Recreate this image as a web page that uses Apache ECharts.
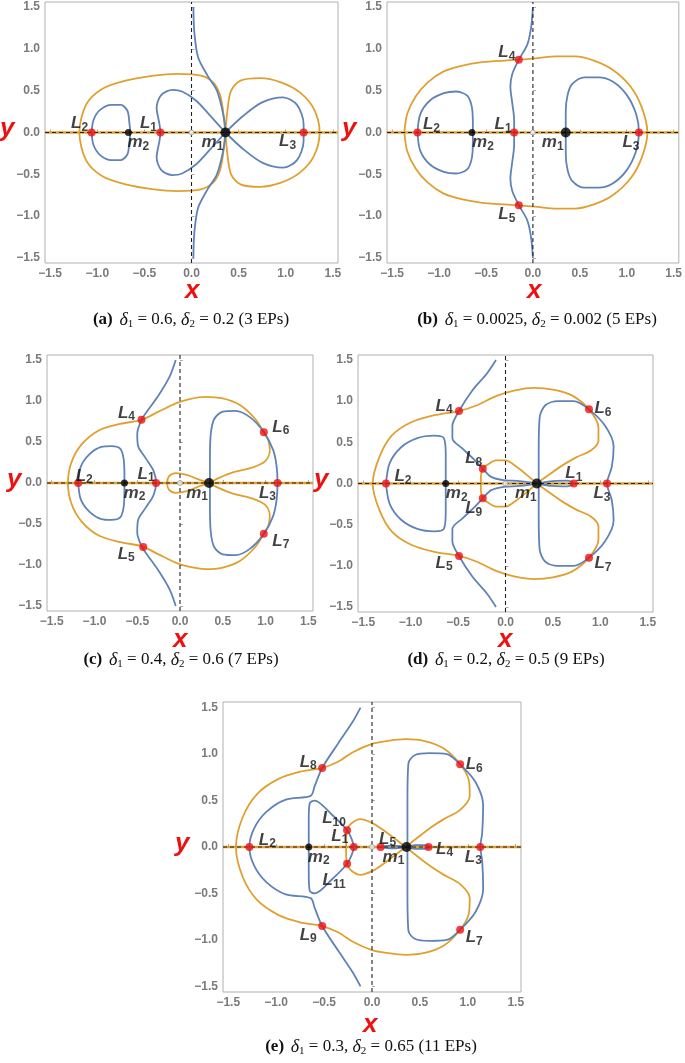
<!DOCTYPE html>
<html><head><meta charset="utf-8">
<script src="https://cdn.jsdelivr.net/npm/echarts@6/dist/echarts.min.js"></script>
<style>html,body{margin:0;padding:0;background:#fff}#c{width:685px;height:1063px}</style>
</head><body><div id="c"></div>
<script>
// Tick labels shared by all panels
const tickValues = [-1.5, -1.0, -0.5, 0.0, 0.5, 1.0, 1.5];

// ---- Panel (a): upper halves (mirrored about y=0) ----
const aOrangeLeft = [[0.36,0],[0.345,0.15],[0.33,0.3],[0.3,0.46],[0.23,0.6],[0.1,0.68],[-0.15,0.70],[-0.4,0.68],[-0.7,0.62],[-0.95,0.52],[-1.12,0.33],[-1.19,0]];
const aOrangeRight = [[0.36,0],[0.38,0.25],[0.42,0.5],[0.52,0.62],[0.73,0.65],[0.95,0.60],[1.15,0.48],[1.30,0.28],[1.36,0]];
const aBlueVert = [[0.02,1.5],[0.03,1.2],[0.07,0.9],[0.17,0.68],[0.27,0.5],[0.34,0.2],[0.36,0]];
const aBlueMid = [[0.36,0],[0.2,0.2],[0.05,0.38],[-0.1,0.49],[-0.2,0.51],[-0.32,0.45],[-0.37,0.3],[-0.34,0.1],[-0.33,0]];
const aBlueRight = [[0.36,0],[0.55,0.2],[0.75,0.36],[0.97,0.42],[1.12,0.33],[1.19,0.1],[1.19,0]];
const aBlueLeft = [[-1.06,0],[-1.04,0.15],[-0.97,0.27],[-0.85,0.33],[-0.75,0.33],[-0.68,0.26],[-0.66,0.12],[-0.65,0]];
const aPoints = [['L','2',-1.06,0],['L','1',-0.33,0],['L','3',1.19,0]];
const aMasses = [['m','2',-0.67,0],['m','1',0.36,0]];

// ---- Panel (b) ----
const bOrange = [[-1.37,0],[-1.34,0.22],[-1.25,0.43],[-1.12,0.6],[-0.95,0.73],[-0.75,0.8],[-0.54,0.84],[-0.3,0.86],[-0.15,0.87],[0.05,0.89],[0.25,0.91],[0.45,0.91],[0.65,0.86],[0.85,0.75],[1.04,0.55],[1.16,0.30],[1.22,0]];
const bBlueVert = [[0,1.5],[-0.02,1.25],[-0.06,1.05],[-0.15,0.87],[-0.22,0.7],[-0.24,0.55],[-0.22,0.35],[-0.2,0.15],[-0.2,0]];
const bBlueLeft = [[-1.23,0],[-1.2,0.22],[-1.1,0.38],[-0.95,0.47],[-0.82,0.49],[-0.7,0.44],[-0.65,0.3],[-0.64,0.1],[-0.64,0]];
const bBlueRight = [[0.35,0],[0.35,0.25],[0.37,0.45],[0.42,0.58],[0.55,0.66],[0.7,0.66],[0.85,0.61],[1.0,0.45],[1.1,0.22],[1.13,0]];
const bPoints = [['L','2',-1.23,0],['L','1',-0.2,0],['L','3',1.13,0],['L','4',-0.15,0.87],['L','5',-0.15,-0.87]];
const bMasses = [['m','2',-0.65,0],['m','1',0.35,0]];

// ---- Panel (c) ----
const cOrangeOuter = [[0.34,0],[0.45,0.06],[0.62,0.13],[0.85,0.19],[1.0,0.27],[1.05,0.4],[1.03,0.53],[0.98,0.62],[0.88,0.78],[0.7,0.95],[0.5,1.03],[0.3,1.05],[0.1,1.02],[-0.05,0.97],[-0.25,0.87],[-0.45,0.77],[-0.7,0.72],[-0.95,0.64],[-1.15,0.47],[-1.27,0.25],[-1.31,0]];
const cOrangeInner = [[0.34,0],[0.2,0.05],[0.08,0.1],[-0.05,0.12],[-0.13,0.08],[-0.15,0]];
const cBlueVert = [[-0.05,1.5],[-0.12,1.3],[-0.25,1.07],[-0.38,0.88],[-0.45,0.77],[-0.5,0.6],[-0.49,0.45],[-0.4,0.3],[-0.31,0.15],[-0.28,0]];
const cBlueLeft = [[-1.19,0],[-1.16,0.2],[-1.06,0.35],[-0.92,0.44],[-0.8,0.45],[-0.7,0.42],[-0.66,0.3],[-0.65,0.1],[-0.65,0]];
const cBlueRight = [[0.35,0],[0.35,0.3],[0.36,0.6],[0.4,0.78],[0.5,0.87],[0.65,0.88],[0.82,0.8],[0.98,0.62],[1.09,0.4],[1.13,0.2],[1.14,0]];
const cPoints = [['L','2',-1.19,0],['L','1',-0.28,0],['L','3',1.14,0],['L','4',-0.45,0.77],['L','5',-0.43,-0.78],['L','6',0.98,0.62],['L','7',0.98,-0.62]];
const cMasses = [['m','2',-0.65,0],['m','1',0.34,0]];

// ---- Panel (d) ----
const dOrangeOuter = [[0.33,0],[0.45,0.1],[0.6,0.22],[0.75,0.32],[0.9,0.4],[0.98,0.52],[0.98,0.68],[0.88,0.9],[0.7,1.07],[0.5,1.14],[0.3,1.16],[0.1,1.13],[-0.1,1.06],[-0.3,0.95],[-0.49,0.88],[-0.75,0.83],[-1.0,0.74],[-1.2,0.58],[-1.33,0.32],[-1.4,0]];
const dOrangeInner = [[0.33,0],[0.25,0.08],[0.12,0.2],[0.0,0.28],[-0.1,0.28],[-0.2,0.22],[-0.24,0.18],[-0.26,0.08],[-0.26,0]];
const dBlueVert = [[-0.10,1.5],[-0.2,1.33],[-0.35,1.13],[-0.49,0.88],[-0.56,0.7],[-0.56,0.55],[-0.45,0.42],[-0.33,0.29],[-0.24,0.18],[-0.15,0.08],[-0.02,0.04],[0.15,0.03],[0.33,0]];
const dBlueLeft = [[-1.26,0],[-1.22,0.25],[-1.1,0.44],[-0.93,0.55],[-0.75,0.58],[-0.65,0.55],[-0.63,0.35],[-0.63,0.1],[-0.63,0]];
const dBlueRight = [[0.35,0],[0.35,0.4],[0.36,0.8],[0.42,0.95],[0.55,1.0],[0.72,1.0],[0.88,0.9],[1.05,0.7],[1.14,0.45],[1.12,0.2],[1.07,0]];
const dBlueSmall = [[0.33,0],[0.5,0.03],[0.65,0.035],[0.72,0]];
const dPoints = [['L','2',-1.26,0],['L','1',0.72,0],['L','3',1.07,0],['L','4',-0.49,0.88],['L','5',-0.49,-0.88],['L','6',0.88,0.9],['L','7',0.88,-0.9],['L','8',-0.24,0.18],['L','9',-0.24,-0.18]];
const dMasses = [['m','2',-0.63,0],['m','1',0.33,0]];

// ---- Panel (e) ----
const eOrangeOuter = [[0.35,0],[0.45,0.08],[0.6,0.2],[0.75,0.3],[0.92,0.4],[1.02,0.55],[1.01,0.72],[0.92,0.89],[0.75,1.06],[0.55,1.14],[0.35,1.16],[0.15,1.14],[0,1.11],[-0.2,1.02],[-0.35,0.92],[-0.52,0.85],[-0.75,0.81],[-0.98,0.73],[-1.2,0.57],[-1.35,0.32],[-1.42,0]];
const eOrangeInner = [[0.35,0],[0.25,0.08],[0.12,0.18],[0.0,0.26],[-0.12,0.30],[-0.22,0.25],[-0.26,0.18],[-0.27,0.08],[-0.27,0]];
const eBlueOuter = [[-0.12,1.5],[-0.2,1.35],[-0.35,1.12],[-0.52,0.85],[-0.6,0.65],[-0.64,0.55],[-0.9,0.51],[-1.1,0.38],[-1.23,0.2],[-1.28,0]];
const eBlueTri = [[-0.66,0],[-0.66,0.3],[-0.65,0.47],[-0.6,0.5],[-0.42,0.35],[-0.26,0.18],[-0.21,0.08],[-0.19,0]];
const eBlueRight = [[0.37,0],[0.37,0.5],[0.38,0.9],[0.45,0.99],[0.6,1.01],[0.78,1.0],[0.92,0.89],[1.08,0.7],[1.16,0.45],[1.15,0.15],[1.13,0]];
const eBlueSmallR = [[0.35,0],[0.45,0.02],[0.55,0.02],[0.6,0]];
const eBlueSmallL = [[0.09,0],[0.2,0.015],[0.35,0]];
const ePoints = [['L','2',-1.28,0],['L','1',-0.19,0],['L','3',1.13,0],['L','4',0.59,0],['L','5',0.09,0],['L','6',0.92,0.89],['L','7',0.92,-0.89],['L','8',-0.52,0.85],['L','9',-0.52,-0.85],['L','10',-0.26,0.18],['L','11',-0.26,-0.18]];
const eMasses = [['m','2',-0.66,0],['m','1',0.36,0]];

// ---- styles / layout (not data) ----
const ORANGE = '#E0A030', BLUE = '#5F83B7';
const panels = [
  {grid:{left:45,top:2,width:293,height:261}, orange:[aOrangeLeft,aOrangeRight], blue:[aBlueVert,aBlueMid,aBlueRight,aBlueLeft], pts:aPoints, ms:aMasses,
   off:{L2:[-12,-9],L1:[-12,-9],L3:[-16,9],m2:[10,10],m1:[-13,10]}, title:['(a)','0.6','0.2','3'], tx:[191,320], xl:[193,293], yl:[8,132]},
  {grid:{left:387,top:2,width:295,height:261}, orange:[bOrange], blue:[bBlueVert,bBlueLeft,bBlueRight], pts:bPoints, ms:bMasses,
   off:{L2:[14,-8],L1:[-11,-8],L3:[-8,10],L4:[-12,-7],L5:[-12,9],m2:[11,10],m1:[-13,10]}, title:['(b)','0.0025','0.002','5'], tx:[537,320], xl:[535,293], yl:[350,132]},
  {grid:{left:47,top:355,width:266,height:256}, orange:[cOrangeOuter,cOrangeInner], blue:[cBlueVert,cBlueLeft,cBlueRight], pts:cPoints, ms:cMasses,
   off:{L2:[6,-7],L1:[-10,-9],L3:[-10,10],L4:[-15,-7],L5:[-17,7],L6:[17,-5],L7:[17,7],m2:[10,10],m1:[-12,10]}, title:['(c)','0.4','0.6','7'], tx:[181,660], xl:[181,642], yl:[15,483]},
  {grid:{left:358,top:355,width:295,height:257}, orange:[dOrangeOuter,dOrangeInner], blue:[dBlueVert,dBlueLeft,dBlueRight,dBlueSmall], pts:dPoints, ms:dMasses,
   off:{L2:[17,-7],L1:[0,-10],L3:[-5,10],L4:[-15,-5],L5:[-15,7],L6:[14,-1],L7:[14,6],L8:[-9,-10],L9:[-9,10],m2:[11,10],m1:[-11,10]}, title:['(d)','0.2','0.5','9'], tx:[506,660], xl:[506,642], yl:[322,483]},
  {grid:{left:223,top:702,width:298,height:290}, orange:[eOrangeOuter,eOrangeInner], blue:[eBlueOuter,eBlueTri,eBlueRight,eBlueSmallR,eBlueSmallL], pts:ePoints, ms:eMasses,
   off:{L2:[18,-7],L1:[-14,-11],L3:[-7,10],L4:[16,2],L5:[7,-8],L6:[14,0],L7:[14,8],L8:[-14,-6],L9:[-14,9],L10:[-13,-12],L11:[-13,17],m2:[10,10],m1:[-13,10]}, title:['(e)','0.3','0.65','11'], tx:[371,1047], xl:[371,1027], yl:[183,847]}
];

function mirror(p){ return p.concat(p.slice(0,-1).reverse().map(q=>[q[0],-q[1]])); }
const fmt = v => (v<0?'\u2212':'') + Math.abs(v).toFixed(1);

const grids=[], xAxes=[], yAxes=[], series=[], graphics=[];
const labRich = {l:{fontFamily:'Liberation Sans',fontWeight:'bold',fontStyle:'italic',fontSize:17,color:'#111'},
                 s:{fontFamily:'Liberation Sans',fontWeight:'bold',fontSize:12,color:'#111',padding:[8,0,0,0]}};
panels.forEach((P,i)=>{
  grids.push(Object.assign({show:true,borderColor:'#b0b0b0',borderWidth:1,containLabel:false}, P.grid));
  const ax = (min,max)=>({min,max,gridIndex:i,type:'value',
    axisLine:{show:false}, splitLine:{show:false},
    axisTick:{show:true,inside:true,length:3,lineStyle:{color:'#aaa'},customValues:tickValues},
    axisLabel:{customValues:tickValues,formatter:fmt,color:'#7a7a7a',fontWeight:'bold',fontSize:12,fontFamily:'Liberation Sans',margin:5}});
  xAxes.push(ax(-1.555,1.555)); yAxes.push(ax(-1.56,1.56));
  const base={type:'line',xAxisIndex:i,yAxisIndex:i,showSymbol:false,symbol:'none',silent:true,animation:false,smooth:0.3};
  series.push(Object.assign({},base,{smooth:false,data:[[-1.555,0],[1.555,0]],lineStyle:{color:ORANGE,width:2.4},z:2}));
  P.orange.forEach(c=>series.push(Object.assign({},base,{data:mirror(c),lineStyle:{color:ORANGE,width:1.8},z:3})));
  P.blue.forEach(c=>series.push(Object.assign({},base,{data:mirror(c),lineStyle:{color:BLUE,width:1.8},z:3})));
  series.push(Object.assign({},base,{smooth:false,data:[[-1.555,0],[1.555,0]],lineStyle:{color:'#222',width:1.1,type:[4,3]},z:4}));
  series.push(Object.assign({},base,{smooth:false,data:[[0,-1.56],[0,1.56]],lineStyle:{color:'#222',width:1.1,type:[4,3]},z:4}));
  series.push({type:'scatter',xAxisIndex:i,yAxisIndex:i,symbol:'circle',symbolSize:5,itemStyle:{color:'#fff',borderColor:'#999',borderWidth:1},data:[[0,0]],z:5,animation:false,silent:true});
  const mk = (arr,color,size)=>({type:'scatter',xAxisIndex:i,yAxisIndex:i,symbolSize:size,itemStyle:{color},z:6,animation:false,silent:true,
    data:arr.map(p=>{const key=p[0]+p[1];const o=P.off[key]||[0,-10];
      return {value:[p[2],p[3]],label:{show:true,position:'inside',offset:o,formatter:'{l|'+p[0]+'}{s|'+p[1]+'}',rich:labRich}};})});
  series.push(mk(P.pts,'#ee1111',8));
  series.push(Object.assign(mk(P.ms,'#000',8),{symbolSize:(v,p)=>p.data.value[0]>0?10:7}));
  graphics.push({type:'text',left:P.xl[0]-8,top:P.xl[1]-15,style:{text:'x',font:'italic bold 26px "Liberation Sans"',fill:'#ee1111'}});
  graphics.push({type:'text',left:P.yl[0]-8,top:P.yl[1]-16,style:{text:'y',font:'italic bold 26px "Liberation Sans"',fill:'#ee1111'}});
  const t=P.title;
  graphics.push({type:'text',x:P.tx[0],y:P.tx[1],style:{align:'center',verticalAlign:'middle',
    text:'{b|'+t[0]+'}  {i|δ}{s|1}{t| = '+t[1]+', }{i|δ}{s|2}{t| = '+t[2]+' ('+t[3]+' EPs)}',
    rich:{b:{fontFamily:'Liberation Serif',fontWeight:'bold',fontSize:17,fill:'#111'},
          i:{fontFamily:'Liberation Serif',fontStyle:'italic',fontSize:18,fill:'#111'},
          s:{fontFamily:'Liberation Serif',fontSize:11,fill:'#111',padding:[8,0,0,0]},
          t:{fontFamily:'Liberation Serif',fontSize:17,fill:'#111'}}}});
});

const chart = echarts.init(document.getElementById('c'),null,{renderer:'canvas'});
chart.setOption({animation:false,grid:grids,xAxis:xAxes,yAxis:yAxes,series,graphic:graphics});
</script></body></html>
